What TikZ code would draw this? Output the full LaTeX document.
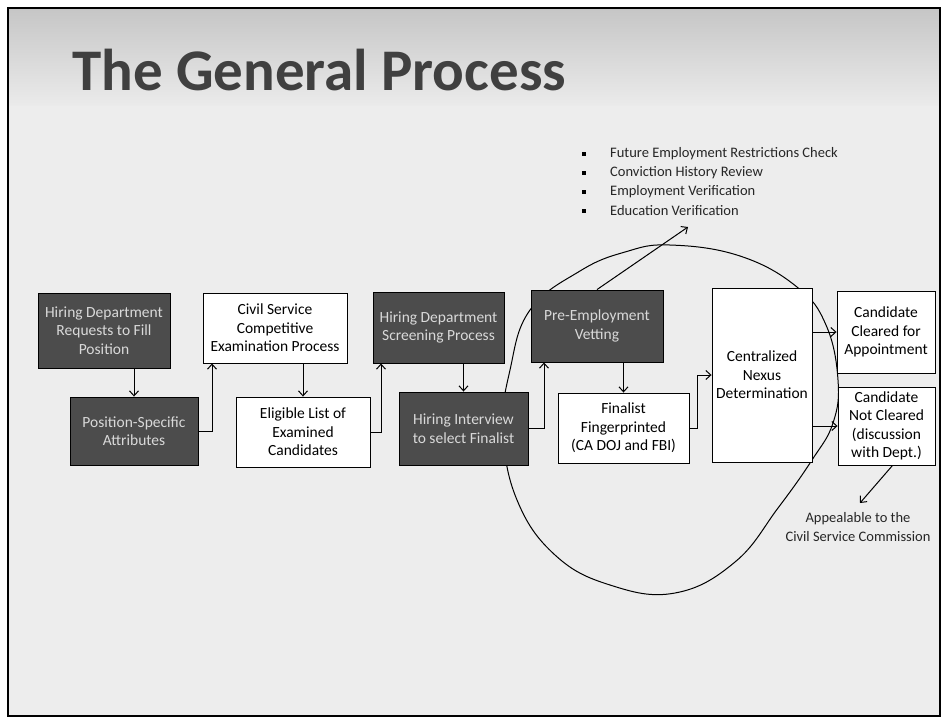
\documentclass[tikz,border=0pt]{standalone}
\usepackage{fontspec}
\setmainfont{Carlito}
\usetikzlibrary{arrows.meta}
\begin{document}
\begin{tikzpicture}[x=1pt,y=-1pt,
  lbox/.style={draw=black,line width=0.9pt,fill=white,align=center,inner sep=0pt,font=\fontsize{15.5}{18.5}\selectfont},
  dbox/.style={lbox,fill=black!70,text=white!85!black},
  conn/.style={line width=1pt,-{Straight Barb[length=5pt,width=9pt]}},
  bul/.style={fill=black,minimum size=4pt,inner sep=0pt},
  btxt/.style={anchor=west,inner sep=0pt,font=\fontsize{14.5}{17}\selectfont,text=black!85},
  ]
\useasboundingbox (0,0) rectangle (948,724);
\fill[white] (0,0) rectangle (948,724);
\fill[gray!14] (8,8) rectangle (940,716);
\shade[top color=gray!45,bottom color=gray!16] (8,8) rectangle (940,105);
\draw[line width=1.5pt] (8,8) rectangle (940,716);

% title
\node[anchor=base west,inner sep=0pt,font=\fontsize{59}{60}\selectfont\bfseries,text=black!75] (title) at (72,90) {The General Process};

% ellipse-like loop
\draw[line width=1pt] plot[smooth cycle,tension=0.7] coordinates {(670,245) (740,256) (797,287) (826,325) (838,380) (833,423) (812,460) (778,508) (735,562) (675,593) (610,585) (555,555) (517,500) (503,430) (510,370) (530,310) (580,271) (625,252)};

% boxes
\node[dbox,minimum width=132,minimum height=75] (n1) at (104,330.5) {Hiring Department\\Requests to Fill\\Position};
\node[dbox,minimum width=128,minimum height=68] (n2) at (134,431) {Position-Specific\\Attributes};
\node[lbox,minimum width=144,minimum height=70] (n3) at (275,328) {Civil Service\\Competitive\\Examination Process};
\node[lbox,minimum width=134,minimum height=70] (n4) at (303,432) {Eligible List of\\Examined\\Candidates};
\node[dbox,minimum width=131,minimum height=71] (n5) at (438.5,327.5) {Hiring Department\\Screening Process};
\node[dbox,minimum width=129,minimum height=73] (n6) at (463.5,428.5) {Hiring Interview\\to select Finalist};
\node[dbox,minimum width=132,minimum height=72] (n7) at (597,326) {Pre-Employment\\Vetting};
\node[lbox,minimum width=131,minimum height=70] (n8) at (623.5,428) {Finalist\\Fingerprinted\\(CA DOJ and FBI)};
\node[lbox,minimum width=100,minimum height=174] (n9) at (762,375) {Centralized\\Nexus\\Determination};
\node[lbox,minimum width=98,minimum height=82] (n10) at (886,332) {Candidate\\Cleared for\\Appointment};
\node[lbox,minimum width=97,minimum height=78] (n11) at (886.5,426) {Candidate\\Not Cleared\\(discussion\\with Dept.)};

% elbow x positions
\coordinate (e23) at (212,0);
\coordinate (e45) at (381,0);
\coordinate (e67) at (544,0);
\coordinate (e89) at (697,0);

\draw[conn] (n1.south -| n2.north) -- (n2.north);
\draw[conn] (n2.east) -| (e23 |- n3.south);
\draw[conn] (n3.south -| n4.north) -- (n4.north);
\draw[conn] (n4.east) -| (e45 |- n5.south);
\draw[conn] (n5.south -| n6.north) -- (n6.north);
\draw[conn] (n6.east) -| (e67 |- n7.south);
\draw[conn] (n7.south -| n8.north) -- (n8.north);
\draw[conn] (n8.east) -| (e89 |- n9.west) -- (n9.west);
\draw[conn] (n9.east |- n10.west) -- (n10.west);
\draw[conn] (n9.east |- n11.west) -- (n11.west);

% bullet list
\node[bul] (b1) at (584,154) {};
\node[bul] (b2) at (584,173) {};
\node[bul] (b3) at (584,192) {};
\node[bul] (b4) at (584,211) {};
\node[btxt] (t1) at (610,154) {Future Employment Restrictions Check};
\node[btxt] (t2) at (610,173) {Conviction History Review};
\node[btxt] (t3) at (610,192) {Employment Verification};
\node[btxt] (t4) at (610,211) {Education Verification};
\coordinate (btip) at (688,227);
\draw[conn] (n7.north) -- (btip);

% appeal
\node[align=center,inner sep=0pt,font=\fontsize{14.5}{19}\selectfont,text=black!85] (app) at (858,527) {Appealable to the\\Civil Service Commission};
\coordinate (apptip) at (860,503);
\draw[conn] ([xshift=6pt]n11.south) -- (apptip);
\end{tikzpicture}
\end{document}
